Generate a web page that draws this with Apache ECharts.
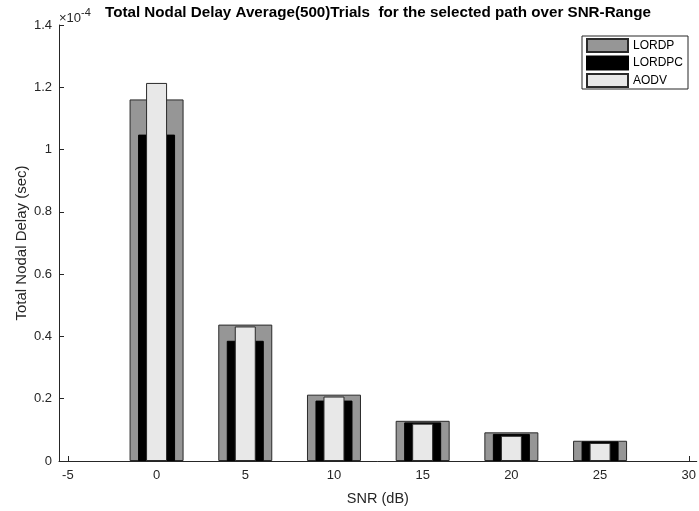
<!DOCTYPE html>
<html>
<head>
<meta charset="utf-8">
<script src="https://cdn.jsdelivr.net/npm/echarts@6/dist/echarts.min.js"></script>
<style>
html,body{margin:0;padding:0;background:#fff;}
#chart{width:699px;height:511px;}
</style>
</head>
<body>
<div id="chart"></div>
<script>
// SNR values (dB)
var snr = [0, 5, 10, 15, 20, 25];
// Total nodal delay, in units of 1e-4 sec
var lordp  = [1.161, 0.438, 0.213, 0.129, 0.092, 0.065];
var lordpc = [1.048, 0.386, 0.194, 0.124, 0.087, 0.063];
var aodv   = [1.214, 0.432, 0.207, 0.120, 0.081, 0.058];
// tick labels
var xTicks = [-5, 0, 5, 10, 15, 20, 25, 30];
var seriesNames = ['LORDP', 'LORDPC', 'AODV'];

var FONT = '"Liberation Sans", Arial, Helvetica, sans-serif';
var INK = '#262626';

function pairs(vals) { return snr.map(function (x, i) { return [x, vals[i]]; }); }

var chart = echarts.init(document.getElementById('chart'), null, {renderer: 'canvas'});

var hiddenX = function () {
  return {type: 'value', min: -5.5, max: 30.45, show: false, gridIndex: 0};
};

chart.setOption({
  backgroundColor: '#ffffff',
  animation: false,
  title: {
    text: 'Total Nodal Delay Average(500)Trials  for the selected path over SNR-Range',
    left: 105, top: 5, padding: 0,
    textStyle: {fontFamily: FONT, fontSize: 15.2, fontWeight: 'bold', color: '#000'}
  },
  legend: {
    data: seriesNames,
    orient: 'vertical',
    left: 582, top: 36,
    padding: [2, 5, 1, 4],
    itemGap: 2.5,
    itemWidth: 41, itemHeight: 13,
    icon: 'rect',
    borderColor: '#262626', borderWidth: 1,
    backgroundColor: '#fff',
    textStyle: {fontFamily: FONT, fontSize: 12, color: '#000'}
  },
  graphic: [{
    type: 'text', left: 59, top: 7,
    style: {
      text: '{a|×10}{b|-4}',
      rich: {
        a: {fontFamily: FONT, fontSize: 13, fill: INK, verticalAlign: 'bottom', padding: [5, 0, 0, 0]},
        b: {fontFamily: FONT, fontSize: 11, fill: INK, verticalAlign: 'top', padding: [0, 0, 6, 0]}
      }
    }
  }],
  grid: {left: 59, right: 1, top: 25, bottom: 50, containLabel: false},
  xAxis: [{
    type: 'value', min: -5.5, max: 30.45,
    name: 'SNR (dB)', nameLocation: 'middle', nameGap: 30,
    nameTextStyle: {fontFamily: FONT, fontSize: 14.5, color: INK},
    axisLine: {show: true, onZero: false, lineStyle: {color: INK, width: 1}},
    axisTick: {show: true, inside: true, length: 5, customValues: xTicks, lineStyle: {color: INK}},
    axisLabel: {customValues: xTicks, fontFamily: FONT, fontSize: 13, color: INK, margin: 8},
    splitLine: {show: false}
  }, hiddenX(), hiddenX()],
  yAxis: {
    type: 'value', min: 0, max: 1.4, interval: 0.2,
    name: 'Total Nodal Delay (sec)', nameLocation: 'middle', nameGap: 30,
    nameMoveOverlap: false,
    nameTextStyle: {fontFamily: FONT, fontSize: 15, color: INK},
    axisLine: {show: true, onZero: false, lineStyle: {color: INK, width: 1}},
    axisTick: {show: true, inside: true, length: 5, lineStyle: {color: INK}},
    axisLabel: {fontFamily: FONT, fontSize: 13, color: INK, margin: 7},
    splitLine: {show: false}
  },
  series: [
    {name: 'LORDP', type: 'bar', xAxisIndex: 0, barWidth: 54, data: pairs(lordp),
     itemStyle: {color: '#969696', borderColor: '#2a2a2a', borderWidth: 1}},
    {name: 'LORDPC', type: 'bar', xAxisIndex: 1, barWidth: 37, data: pairs(lordpc),
     itemStyle: {color: '#000000', borderColor: '#000000', borderWidth: 1}},
    {name: 'AODV', type: 'bar', xAxisIndex: 2, barWidth: 21, data: pairs(aodv),
     itemStyle: {color: '#e8e8e8', borderColor: '#2a2a2a', borderWidth: 1}}
  ]
});
</script>
</body>
</html>
